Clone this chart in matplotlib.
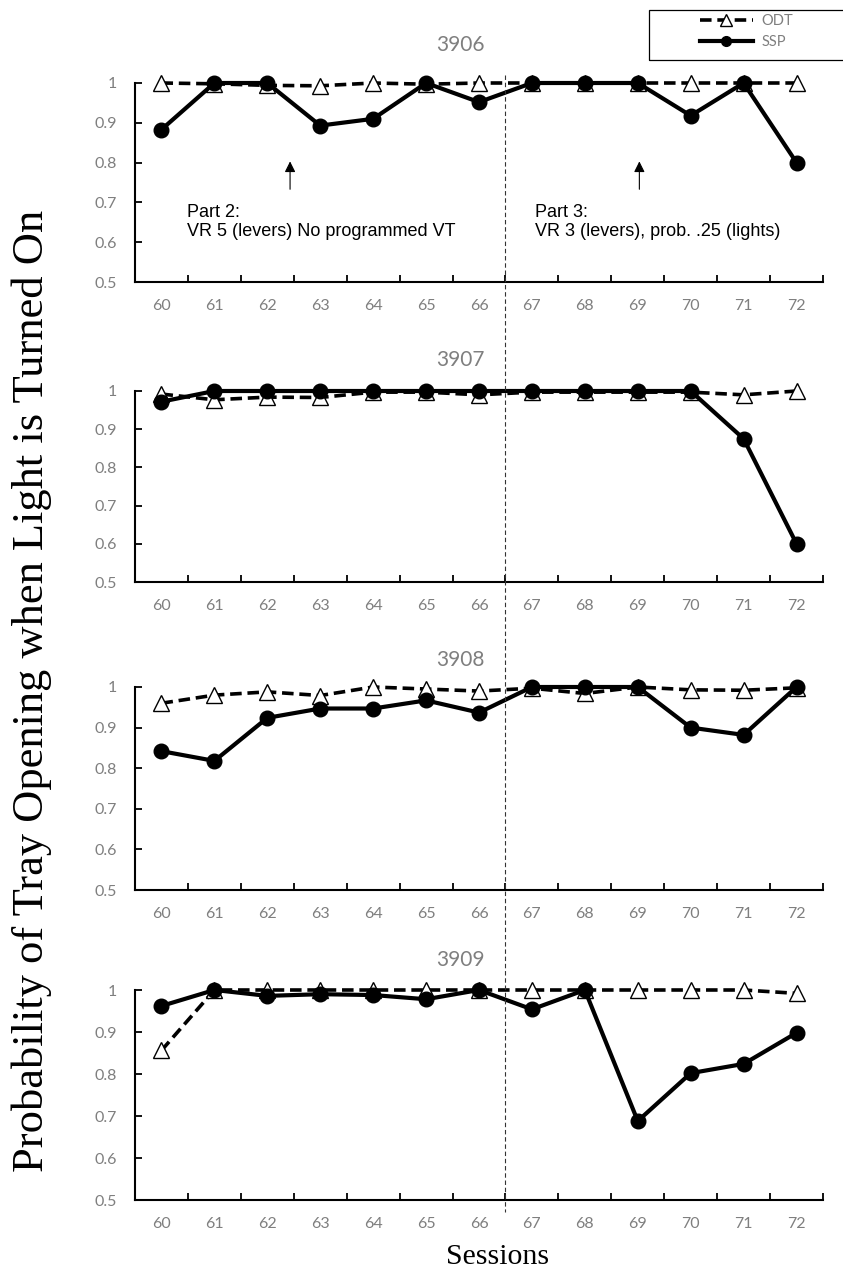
import numpy as np
import matplotlib.pyplot as plt
from matplotlib.lines import Line2D
from matplotlib.patches import Rectangle
from matplotlib.transforms import blended_transform_factory

sessions = [60, 61, 62, 63, 64, 65, 66, 67, 68, 69, 70, 71, 72]
subjects = ['3906', '3907', '3908', '3909']

odt_3906 = [1.0, 0.998, 0.994, 0.993, 1.0, 0.997, 1.0, 1.0, 1.0, 1.0, 1.0, 1.0, 1.0]
ssp_3906 = [0.883, 1.0, 1.0, 0.893, 0.91, 1.0, 0.952, 1.0, 1.0, 1.0, 0.918, 1.0, 0.80]
odt_3907 = [0.992, 0.977, 0.984, 0.983, 0.997, 0.997, 0.99, 0.997, 0.997, 0.997, 0.997, 0.99, 1.0]
ssp_3907 = [0.972, 1.0, 1.0, 1.0, 1.0, 1.0, 1.0, 1.0, 1.0, 1.0, 1.0, 0.875, 0.60]
odt_3908 = [0.96, 0.98, 0.988, 0.979, 1.0, 0.995, 0.99, 0.997, 0.984, 1.0, 0.993, 0.992, 0.998]
ssp_3908 = [0.842, 0.818, 0.924, 0.947, 0.947, 0.967, 0.937, 1.0, 1.0, 1.0, 0.90, 0.882, 1.0]
odt_3909 = [0.856, 1.0, 1.0, 1.0, 1.0, 1.0, 1.0, 1.0, 1.0, 1.0, 1.0, 1.0, 0.992]
ssp_3909 = [0.962, 1.0, 0.986, 0.99, 0.988, 0.978, 1.0, 0.954, 1.0, 0.688, 0.802, 0.824, 0.898]

odt = [odt_3906, odt_3907, odt_3908, odt_3909]
ssp = [ssp_3906, ssp_3907, ssp_3908, ssp_3909]

gray = '#7f7f7f'
tickfont = 'Lato'
W, H = 843, 1270

fig = plt.figure(figsize=(W / 100, H / 100), dpi=100)

# panel extents in pixels: (y of value 1, y of value 0.5), title centre y
panel_px = [(83, 282), (391, 582), (687, 890), (990, 1200)]
title_px = [45, 360, 660, 960]
left_px, right_px = 135, 823

x = np.arange(len(sessions))
axes = []
for i, (ytop, ybot) in enumerate(panel_px):
    ax = fig.add_axes([left_px / W, 1 - ybot / H, (right_px - left_px) / W,
                       (ybot - ytop) / H])
    ax.plot(x, odt[i], color='black', lw=2.6, ls=(0, (3.2, 1.6)), marker='^',
            ms=12, mfc='white', mec='black', mew=1.0, clip_on=False, zorder=3)
    ax.plot(x, ssp[i], color='black', lw=3.0, marker='o', ms=10.5,
            mfc='black', mec='black', clip_on=False, zorder=4)
    ax.set_xlim(-0.5, len(sessions) - 0.5)
    ax.set_ylim(0.5, 1.0)
    ax.set_yticks([0.5, 0.6, 0.7, 0.8, 0.9, 1.0])
    ax.set_yticklabels(['0.5', '0.6', '0.7', '0.8', '0.9', '1'])
    ax.set_xticks(x)
    ax.set_xticklabels([str(s) for s in sessions])
    ax.set_xticks(np.arange(len(sessions) + 1) - 0.5, minor=True)
    ax.tick_params(axis='x', which='major', length=0, pad=12.5,
                   labelsize=11.5, labelcolor=gray)
    ax.tick_params(axis='x', which='minor', direction='in', length=5, width=1.3)
    ax.tick_params(axis='y', direction='in', length=5, width=1.3, pad=13,
                   labelsize=11.5, labelcolor=gray)
    for lab in ax.get_xticklabels() + ax.get_yticklabels():
        lab.set_fontfamily(tickfont)
    for s in ['top', 'right']:
        ax.spines[s].set_visible(False)
    for s in ['left', 'bottom']:
        ax.spines[s].set_linewidth(1.5)
    fig.text(460 / W, 1 - title_px[i] / H, subjects[i], ha='center',
             va='center', fontsize=15, color=gray, family=tickfont)
    axes.append(ax)

# annotations in first panel
ax1 = axes[0]
for xa in [2.43, 9.03]:
    ax1.annotate('', xy=(xa, 0.81), xytext=(xa, 0.726),
                 arrowprops=dict(arrowstyle='-|>', color='black', lw=0.8,
                                 mutation_scale=16))
ax1.text(0.48, 0.65, 'Part 2:\nVR 5 (levers) No programmed VT', ha='left',
         va='center', fontsize=13, family='Liberation Sans', linespacing=1.15)
ax1.text(7.06, 0.65, 'Part 3:\nVR 3 (levers), prob. .25 (lights)', ha='left',
         va='center', fontsize=13, family='Liberation Sans', linespacing=1.15)

# vertical phase line through all panels
split = sessions.index(66) + 0.5
tr = blended_transform_factory(axes[-1].transData, fig.transFigure)
fig.add_artist(Line2D([split, split], [1 - 75 / H, 1 - 1212 / H],
                      transform=tr, color='#333333', lw=0.8,
                      ls=(0, (4, 2.5)), zorder=10))

# axis labels
fig.text(0.038, 0.456, 'Probability of Tray Opening when Light is Turned On',
         rotation=90, ha='center', va='center', fontsize=32,
         family='Liberation Serif')
fig.text(498 / W, 1 - 1257 / H, 'Sessions', ha='center', va='center',
         fontsize=21.5, family='Liberation Serif')

# legend box
fig.add_artist(Rectangle((649 / W, 1 - 60 / H), 200 / W, 50 / H,
                         transform=fig.transFigure, fill=False,
                         edgecolor='black', lw=0.9))
handles = [Line2D([], [], color='black', lw=2.6, ls=(0, (3.2, 1.6)), marker='^',
                  ms=8, mfc='white', mec='black'),
           Line2D([], [], color='black', lw=3.0, marker='o', ms=7, mfc='black')]
leg = fig.legend(handles, ['ODT', 'SSP'], loc='upper left',
                 bbox_to_anchor=(700 / W, 1 - 14 / H), frameon=False,
                 handlelength=3.6, handletextpad=0.6, labelspacing=0.5,
                 borderpad=0.0, borderaxespad=0.0,
                 prop={'family': tickfont, 'size': 10.5})
for t in leg.get_texts():
    t.set_color(gray)

fig.savefig('out.png', dpi=100)
